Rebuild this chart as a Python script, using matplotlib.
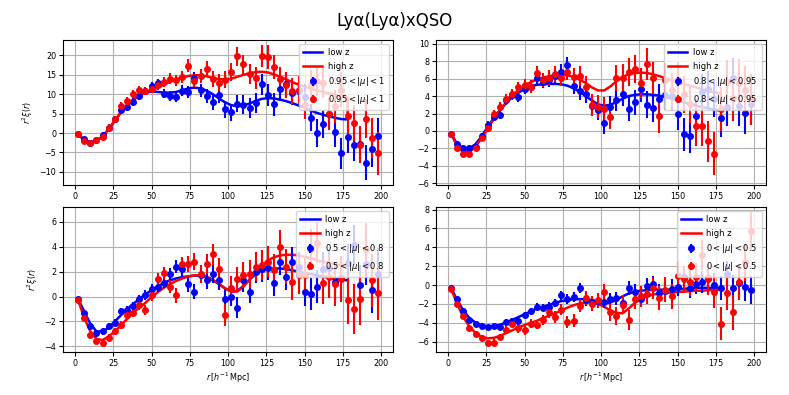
import numpy as np
import matplotlib
matplotlib.use('Agg')
import matplotlib.pyplot as plt

# --- データ ---
r_data = list(range(2, 200, 4))      # 2, 6, ..., 198
r_model = list(range(2, 180, 4))     # 2, 6, ..., 178

mu_labels = [r'$0.95 < |\mu| < 1$', r'$0.8 < |\mu| < 0.95$',
             r'$0.5 < |\mu| < 0.8$', r'$0 < |\mu| < 0.5$']

# 0.95 < |mu| < 1
xi1_low = [-0.3, -1.5, -2.5, -1.8, -0.5, 1.3, 3.5, 6.0, 6.6, 7.9,
           9.5, 10.8, 12.0, 12.8, 10.1, 9.6, 9.2, 10.9, 10.6, 14.2,
           11.0, 9.5, 7.9, 9.8, 6.1, 5.4, 7.6, 7.3, 6.5, 7.7,
           12.6, 9.8, 7.4, 11.3, 12.6, 10.3, 10.9, 9.3, 4.0, 0.1,
           2.3, 4.8, 0.2, -5.2, -1.1, -3.0, -2.7, -7.6, -4.2, -0.8]
xi1_high = [-0.3, -2.0, -2.6, -1.8, -1.0, 1.4, 3.6, 7.0, 8.2, 10.1,
            11.1, 10.8, 11.4, 12.4, 13.1, 14.0, 13.6, 14.4, 17.4, 13.5,
            14.6, 16.6, 13.9, 13.0, 13.7, 15.7, 19.8, 17.7, 15.3, 14.2,
            19.9, 19.6, 17.1, 13.8, 12.3, 10.9, 11.1, 7.2, 12.5, 13.3,
            12.8, 5.0, 6.9, 11.2, 4.3, 2.6, -3.0, 3.7, -1.3, -5.2]
err1_low = [0.4, 0.5, 0.6, 0.6, 0.7, 0.7, 0.8, 0.9, 0.9, 1.0,
            1.0, 1.1, 1.1, 1.2, 1.2, 1.3, 1.3, 1.4, 1.5, 1.6,
            1.7, 1.8, 1.9, 2.0, 2.1, 2.2, 2.3, 2.4, 2.5, 2.6,
            2.7, 2.8, 2.9, 3.0, 3.1, 3.2, 3.3, 3.4, 3.5, 3.6,
            3.7, 3.8, 3.9, 4.0, 4.1, 4.2, 4.3, 4.4, 4.5, 4.6]
err1_high = [0.4, 0.5, 0.6, 0.6, 0.7, 0.8, 0.8, 0.9, 1.0, 1.0,
             1.1, 1.1, 1.2, 1.3, 1.3, 1.4, 1.4, 1.5, 1.6, 1.7,
             1.8, 1.9, 2.0, 2.1, 2.2, 2.3, 2.4, 2.5, 2.6, 2.8,
             2.9, 3.0, 3.1, 3.2, 3.3, 3.4, 3.5, 3.6, 3.7, 3.8,
             3.9, 4.1, 4.2, 4.4, 4.5, 4.7, 4.8, 5.0, 5.2, 5.5]
m1_low = [-0.3, -1.8, -2.4, -2.0, -0.8, 1.0, 3.2, 5.3, 7.0, 8.5,
          9.7, 10.4, 10.7, 10.6, 10.4, 10.4, 10.6, 11.0, 11.5, 11.7,
          11.5, 10.9, 10.0, 8.9, 7.9, 7.2, 6.9, 7.1, 7.6, 8.3,
          8.8, 9.0, 8.9, 8.6, 8.2, 7.7, 7.1, 6.5, 5.8, 5.2,
          4.7, 4.3, 3.9, 3.6, 3.5]
m1_high = [-0.3, -1.9, -2.5, -2.1, -0.9, 1.0, 3.2, 5.4, 7.2, 8.7,
           9.8, 10.5, 11.0, 11.7, 12.5, 13.2, 13.8, 14.3, 14.7, 14.9,
           14.9, 14.6, 14.2, 13.9, 13.8, 14.0, 14.5, 15.0, 15.4, 15.7,
           15.8, 15.6, 15.1, 14.5, 13.8, 13.1, 12.5, 12.0, 11.5, 11.0,
           10.6, 10.2, 9.8, 9.4, 9.2, 4.0]
r_model_1high = r_model + [178]   # 最後で急に落ちる

# 0.8 < |mu| < 0.95
xi2_low = [-0.3, -1.5, -1.9, -1.9, -1.8, -0.6, 0.7, 1.6, 1.8, 3.5,
           4.1, 3.9, 4.8, 5.1, 6.1, 5.6, 5.8, 6.3, 6.8, 7.6,
           5.2, 4.6, 4.3, 2.9, 2.4, 0.9, 2.8, 3.6, 4.2, 2.5,
           3.3, 4.8, 3.0, 2.6, 3.7, 4.1, 4.0, 1.9, -0.4, -0.6,
           1.7, 4.5, 4.8, 3.7, 1.5, 2.8, 6.1, 2.9, 2.1, 3.1]
xi2_high = [-0.3, -1.9, -2.6, -2.6, -2.0, -0.8, 0.3, 1.9, 2.8, 3.7,
            4.2, 5.0, 5.3, 5.1, 6.7, 5.9, 6.1, 6.5, 6.1, 6.8,
            6.2, 6.3, 5.1, 3.0, 2.8, 2.5, 1.6, 6.1, 6.1, 6.8,
            7.1, 5.5, 7.7, 6.1, 1.7, 5.9, 4.7, 5.8, 4.2, 3.1,
            0.6, 0.6, -1.2, -2.6, 2.5, 5.6, 3.8, 5.5, 4.7, 3.6]
err2_low = [0.2, 0.25, 0.3, 0.3, 0.35, 0.35, 0.4, 0.45, 0.45, 0.5,
            0.55, 0.6, 0.6, 0.65, 0.7, 0.7, 0.75, 0.8, 0.85, 0.9,
            0.95, 1.0, 1.05, 1.1, 1.15, 1.2, 1.25, 1.3, 1.35, 1.4,
            1.45, 1.5, 1.55, 1.6, 1.65, 1.7, 1.75, 1.8, 1.85, 1.9,
            1.95, 2.0, 2.1, 2.15, 2.2, 2.25, 2.3, 2.35, 2.4, 2.45]
err2_high = [0.2, 0.25, 0.3, 0.35, 0.35, 0.4, 0.45, 0.5, 0.5, 0.55,
             0.6, 0.65, 0.7, 0.75, 0.8, 0.8, 0.85, 0.9, 0.95, 1.0,
             1.05, 1.1, 1.2, 1.25, 1.3, 1.35, 1.4, 1.5, 1.55, 1.6,
             1.65, 1.7, 1.8, 1.85, 1.9, 1.95, 2.0, 2.1, 2.15, 2.2,
             2.3, 2.35, 2.4, 2.5, 2.55, 2.6, 2.7, 2.75, 2.8, 2.9]
m2_low = [-0.3, -1.5, -2.0, -2.0, -1.5, -0.6, 0.5, 1.5, 2.4, 3.2,
          3.9, 4.4, 4.8, 5.1, 5.3, 5.35, 5.4, 5.4, 5.35, 5.2,
          4.9, 4.5, 4.0, 3.5, 3.05, 2.9, 3.0, 3.3, 3.7, 4.0,
          4.15, 4.2, 4.2, 4.15, 4.05, 3.9, 3.7, 3.5, 3.3, 3.1,
          2.9, 2.75, 2.6, 2.45, 2.35]
m2_high = [-0.3, -1.8, -2.4, -2.4, -1.8, -0.8, 0.3, 1.4, 2.4, 3.3,
           4.1, 4.7, 5.2, 5.6, 5.9, 6.1, 6.3, 6.4, 6.45, 6.4,
           6.2, 5.9, 5.5, 5.0, 4.65, 4.65, 5.1, 5.7, 6.2, 6.5,
           6.65, 6.7, 6.65, 6.5, 6.3, 6.05, 5.8, 5.6, 5.4, 5.2,
           5.0, 4.8, 4.6, 4.45, 4.3]

# 0.5 < |mu| < 0.8
xi3_low = [-0.2, -1.3, -2.4, -2.9, -2.8, -2.4, -2.1, -1.2, -1.1, -0.8,
           -0.2, 0.1, 0.6, 0.8, 1.1, 1.8, 2.4, 2.2, 1.0, 0.4,
           1.7, 1.3, 1.8, 1.3, -0.2, 0.0, -0.9, 1.3, 0.4, 2.0,
           2.2, 2.3, 1.1, 2.8, 1.6, 2.8, 2.4, 0.4, 0.2, 0.8,
           2.2, 2.3, 1.2, 1.5, 2.7, 4.1, 0.9, 2.6, 0.5, 1.8]
xi3_high = [-0.3, -1.7, -3.1, -3.6, -3.7, -3.3, -2.8, -2.3, -1.5, -1.3,
            -0.7, -1.1, 0.1, 1.4, 1.9, 0.8, 0.1, 2.6, 2.6, 2.8,
            1.8, 2.6, 3.4, 2.2, -1.5, 0.7, 1.4, 1.7, 1.8, 2.4,
            2.5, 2.8, 2.1, 4.0, 2.4, 1.2, 1.7, 1.7, 3.8, 4.3,
            1.1, 1.6, 1.0, 1.4, -0.3, -1.0, -0.2, 3.8, 1.3, 0.3]
err3_low = [0.15, 0.2, 0.2, 0.25, 0.25, 0.25, 0.3, 0.3, 0.3, 0.35,
            0.35, 0.4, 0.4, 0.45, 0.45, 0.5, 0.55, 0.55, 0.6, 0.6,
            0.65, 0.7, 0.7, 0.75, 0.8, 0.8, 0.85, 0.9, 0.9, 0.95,
            1.0, 1.0, 1.05, 1.1, 1.1, 1.15, 1.2, 1.2, 1.25, 1.3,
            1.35, 1.4, 1.45, 1.5, 1.55, 1.6, 1.65, 1.7, 1.8, 1.85]
err3_high = [0.15, 0.2, 0.2, 0.25, 0.25, 0.3, 0.3, 0.3, 0.35, 0.35,
             0.4, 0.4, 0.45, 0.5, 0.5, 0.55, 0.6, 0.6, 0.65, 0.7,
             0.75, 0.8, 0.85, 0.9, 0.9, 0.95, 1.0, 1.05, 1.1, 1.15,
             1.2, 1.25, 1.3, 1.35, 1.4, 1.45, 1.5, 1.55, 1.6, 1.65,
             1.7, 1.75, 1.8, 1.85, 1.9, 2.0, 2.05, 2.1, 2.15, 2.2]
m3_low = [-0.2, -1.2, -2.2, -2.8, -2.8, -2.5, -2.0, -1.5, -1.0, -0.6,
          -0.2, 0.2, 0.5, 0.8, 1.1, 1.3, 1.45, 1.55, 1.62, 1.68,
          1.68, 1.55, 1.3, 1.0, 0.65, 0.4, 0.45, 0.85, 1.35, 1.8,
          2.1, 2.25, 2.25, 2.25, 2.2, 2.1, 2.0, 1.9, 1.8, 1.7,
          1.6, 1.5, 1.4, 1.35, 1.3]
m3_high = [-0.3, -1.7, -2.8, -3.4, -3.5, -3.2, -2.8, -2.3, -1.8, -1.3,
           -0.9, -0.5, -0.05, 0.35, 0.7, 1.0, 1.25, 1.45, 1.6, 1.7,
           1.7, 1.6, 1.35, 1.0, 0.65, 0.4, 0.4, 0.8, 1.4, 2.0,
           2.5, 2.9, 3.15, 3.3, 3.35, 3.35, 3.3, 3.2, 3.05, 2.9,
           2.8, 2.7, 2.6, 2.5, 2.4]

# 0 < |mu| < 0.5
xi4_low = [-0.3, -1.5, -2.8, -3.7, -4.1, -4.3, -4.5, -4.3, -4.5, -3.9,
           -3.8, -3.8, -3.2, -2.8, -2.3, -2.4, -2.3, -1.9, -1.1, -1.5,
           -1.3, -0.3, -1.6, -1.8, -1.7, -1.8, -1.5, -1.4, -1.9, -0.3,
           -0.7, -1.5, -0.1, 0.1, -0.8, -0.6, -0.4, -0.2, 0.9, -0.3,
           0.1, 0.3, 0.7, 0.0, -0.3, 1.2, -0.3, 0.2, -0.2, -0.5]
xi4_high = [-0.4, -2.0, -3.3, -4.6, -5.2, -5.6, -6.1, -6.1, -5.5, -4.8,
            -4.1, -4.6, -4.8, -4.1, -4.2, -3.7, -2.9, -3.4, -2.6, -3.9,
            -3.8, -2.2, -1.4, -2.0, -1.6, -0.7, -2.9, -3.3, -2.1, -3.7,
            -1.5, -1.2, -0.9, -0.3, -1.4, -0.5, -1.2, 1.0, 0.6, 0.3,
            0.8, 3.2, 0.6, -0.7, -4.1, -0.8, -2.9, 0.3, 2.4, 5.7]
err4_low = [0.15, 0.2, 0.2, 0.2, 0.25, 0.25, 0.25, 0.3, 0.3, 0.3,
            0.35, 0.35, 0.35, 0.4, 0.4, 0.4, 0.45, 0.45, 0.5, 0.5,
            0.55, 0.55, 0.6, 0.6, 0.65, 0.65, 0.7, 0.7, 0.75, 0.75,
            0.8, 0.8, 0.85, 0.9, 0.9, 0.95, 1.0, 1.0, 1.05, 1.1,
            1.1, 1.15, 1.2, 1.25, 1.3, 1.35, 1.4, 1.45, 1.5, 1.5]
err4_high = [0.15, 0.2, 0.25, 0.25, 0.3, 0.3, 0.3, 0.35, 0.35, 0.4,
             0.4, 0.45, 0.45, 0.5, 0.5, 0.55, 0.55, 0.6, 0.6, 0.65,
             0.7, 0.7, 0.75, 0.8, 0.8, 0.85, 0.9, 0.95, 1.0, 1.05,
             1.05, 1.1, 1.15, 1.2, 1.25, 1.3, 1.35, 1.4, 1.45, 1.5,
             1.55, 1.6, 1.65, 1.7, 1.75, 1.8, 1.85, 1.9, 1.95, 2.0]
m4_low = [-0.3, -1.6, -2.7, -3.5, -4.0, -4.3, -4.4, -4.35, -4.2, -4.0,
          -3.7, -3.4, -3.1, -2.8, -2.5, -2.3, -2.1, -1.9, -1.7, -1.6,
          -1.5, -1.5, -1.5, -1.6, -1.8, -1.9, -1.85, -1.6, -1.2, -0.9,
          -0.7, -0.6, -0.55, -0.5, -0.5, -0.5, -0.5, -0.45, -0.4, -0.35,
          -0.3, -0.3, -0.3, -0.3, -0.3]
m4_high = [-0.4, -2.0, -3.4, -4.4, -5.1, -5.5, -5.65, -5.6, -5.4, -5.1,
           -4.8, -4.5, -4.25, -4.0, -3.8, -3.5, -3.25, -3.0, -2.7, -2.4,
           -2.15, -1.95, -1.85, -1.85, -2.0, -2.3, -2.7, -2.95, -3.0, -2.5,
           -1.9, -1.5, -1.2, -1.0, -0.9, -0.85, -0.8, -0.75, -0.7, -0.65,
           -0.6, -0.6, -0.55, -0.5, -0.5]

# パネルの並び（左上、右上、左下、右下）
panels = [
    (xi1_low, err1_low, xi1_high, err1_high, m1_low, m1_high, r_model_1high,
     (-13.4, 24.0), [-10, -5, 0, 5, 10, 15, 20]),
    (xi2_low, err2_low, xi2_high, err2_high, m2_low, m2_high, r_model,
     (-6.2, 10.45), [-6, -4, -2, 0, 2, 4, 6, 8, 10]),
    (xi3_low, err3_low, xi3_high, err3_high, m3_low, m3_high, r_model,
     (-4.45, 7.2), [-4, -2, 0, 2, 4, 6]),
    (xi4_low, err4_low, xi4_high, err4_high, m4_low, m4_high, r_model,
     (-7.1, 8.3), [-6, -4, -2, 0, 2, 4, 6, 8]),
]

fig, axes = plt.subplots(2, 2, figsize=(7.89, 3.95), dpi=100)
fig.subplots_adjust(left=0.08, right=0.971, top=0.899, bottom=0.109,
                    hspace=0.15, wspace=0.13)

for i, ax in enumerate(axes.flat):
    lo, elo, hi, ehi, mlo, mhi, rm_hi, ylim, yt = panels[i]
    ax.plot(r_model, mlo, color='blue', lw=1.8, label='low z')
    ax.plot(rm_hi, mhi, color='red', lw=1.8, label='high z')
    ax.errorbar(r_data, lo, yerr=elo, fmt='o', color='blue', ms=4,
                elinewidth=1.5, label=mu_labels[i])
    ax.errorbar(r_data, hi, yerr=ehi, fmt='o', color='red', ms=4,
                elinewidth=1.5, label=mu_labels[i])
    ax.set_xlim(-7.8, 207.8)
    ax.set_ylim(*ylim)
    ax.set_yticks(yt)
    ax.set_xticks([0, 25, 50, 75, 100, 125, 150, 175, 200])
    ax.grid(True)
    ax.tick_params(labelsize=5.8, length=3, pad=2)
    ax.legend(loc='upper right', fontsize=6, handlelength=2.3,
              handletextpad=0.7, borderpad=0.5, labelspacing=0.55)
    if i % 2 == 0:
        ax.set_ylabel(r'$r^2\xi(r)$', fontsize=5.8, labelpad=3)
    if i >= 2:
        ax.set_xlabel(r'$r\,[h^{-1}\,\mathrm{Mpc}]$', fontsize=5.8, labelpad=2)

fig.suptitle('Lyα(Lyα)xQSO', fontsize=12, y=0.97)

plt.savefig('out.png', dpi=100)
